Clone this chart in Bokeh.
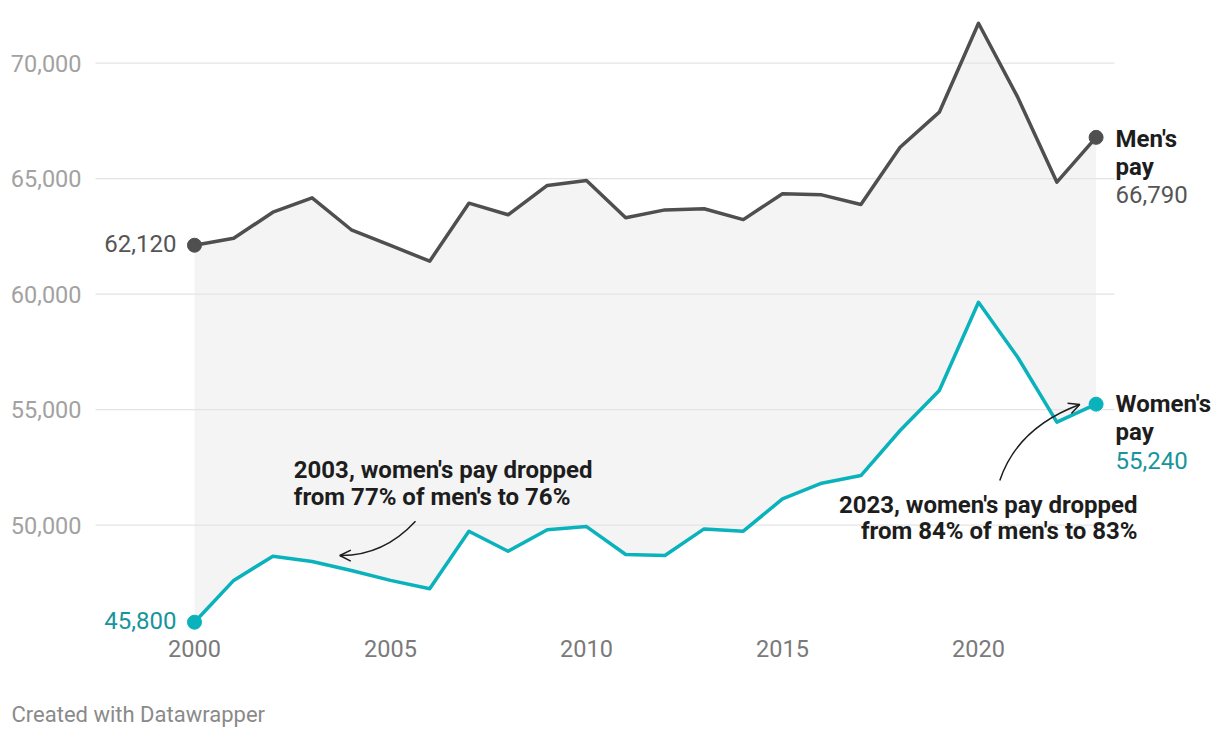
from bokeh.plotting import figure
from bokeh.models import Label, Arrow, OpenHead, Range1d
from bokeh.core.properties import value
from bokeh.embed import file_html
from bokeh.resources import INLINE

# ---- data ----
years = list(range(2000, 2024))
men = [62120, 62420, 63550, 64170, 62790, 62110, 61430, 63940, 63440, 64710, 64920, 63310,
       63650, 63700, 63230, 64350, 64300, 63880, 66360, 67880, 71730, 68530, 64850, 66790]
women = [45800, 47610, 48660, 48430, 48040, 47610, 47250, 49740, 48870, 49800, 49940, 48730,
         48690, 49840, 49740, 51140, 51820, 52150, 54100, 55830, 59650, 57270, 54460, 55240]
x_ticks = [2000, 2005, 2010, 2015, 2020]
y_ticks = [50000, 55000, 60000, 65000, 70000]
series_names = ["Men's", "Women's"]
notes = [["2003, women's pay dropped", "from 77% of men's to 76%"],
         ["2023, women's pay dropped", "from 84% of men's to 83%"]]
footer = "Created with Datawrapper"

# ---- style ----
FONT = "Roboto"
MEN_C = "#4f4f4f"
WOM_C = "#0ab2bb"
WOM_TXT = "#17959b"
MEN_TXT = "#555555"
INK = "#1d1d1d"

W, H = 1220, 738
PX_PER_YEAR = 39.2
PX_PER_5K = 115.5
x_start = 2000 - 194 / PX_PER_YEAR
x_end = x_start + W / PX_PER_YEAR
y_end = 70000 + 62.7 * 5000 / PX_PER_5K
y_start = y_end - H * 5000 / PX_PER_5K
px_y = 5000 / PX_PER_5K          # value units per pixel


def dx(px):   # page pixel -> x data
    return x_start + px / PX_PER_YEAR


def dy(py):   # page pixel -> y data
    return y_end - py * px_y


p = figure(width=W, height=H, x_range=Range1d(x_start, x_end), y_range=Range1d(y_start, y_end),
           output_backend="svg", toolbar_location=None,
           min_border_left=0, min_border_right=0, min_border_top=0, min_border_bottom=0)
p.outline_line_color = None
p.background_fill_color = "white"
p.border_fill_color = "white"
p.xaxis.visible = False
p.yaxis.visible = False
p.xgrid.visible = False
p.ygrid.visible = False

# gap area
p.varea(x=years, y1=women, y2=men, fill_color="#f4f4f4")

# grid lines + tick labels
g_left, g_right = dx(95), dx(1114)
p.segment(x0=[g_left] * len(y_ticks), y0=y_ticks, x1=[g_right] * len(y_ticks), y1=y_ticks,
          line_color="#e4e4e4", line_width=1.3)
p.text(x=[g_left] * len(y_ticks), y=y_ticks, text=[f"{t:,}" for t in y_ticks],
       x_offset=-14, text_align="right", text_baseline="middle",
       text_font=value(FONT), text_font_size="23.5px", text_color="#a2a2a2")
p.text(x=x_ticks, y=[dy(648)] * len(x_ticks), text=[str(t) for t in x_ticks],
       text_align="center", text_baseline="middle",
       text_font=value(FONT), text_font_size="23.5px", text_color="#7a7a7a")

# lines
p.line(years, men, line_color=MEN_C, line_width=3.5, line_join="round", line_cap="round")
p.line(years, women, line_color=WOM_C, line_width=3.5, line_join="round", line_cap="round")

# end dots
p.scatter([years[0], years[-1]], [men[0], men[-1]], size=14, color=MEN_C)
p.scatter([years[0], years[-1]], [women[0], women[-1]], size=14, color=WOM_C)


def lab(x, y, text, color, bold=False, align="left", x_offset=0, size="24px"):
    p.add_layout(Label(x=x, y=y, text=text, x_offset=x_offset, text_font=FONT,
                       text_font_size=size, text_color=color,
                       text_font_style="bold" if bold else "normal",
                       text_align=align, text_baseline="middle"))


# start values
lab(years[0], men[0] + 2 * px_y, f"{men[0]:,}", MEN_TXT, align="right", x_offset=-18)
lab(years[0], women[0] + 1.7 * px_y, f"{women[0]:,}", WOM_TXT, align="right", x_offset=-18)

# end labels
lab(years[-1], men[-1] - 2 * px_y, series_names[0], INK, bold=True, x_offset=19.4)
lab(years[-1], men[-1] - 30 * px_y, "pay", INK, bold=True, x_offset=19.4)
lab(years[-1], men[-1] - 57.5 * px_y, f"{men[-1]:,}", MEN_TXT, x_offset=19.4)
lab(years[-1], women[-1] + 0.5 * px_y, series_names[1], INK, bold=True, x_offset=19.4)
lab(years[-1], women[-1] - 28 * px_y, "pay", INK, bold=True, x_offset=19.4)
lab(years[-1], women[-1] - 56.3 * px_y, f"{women[-1]:,}", WOM_TXT, x_offset=19.4)

# annotations
lab(dx(293.3), dy(469), notes[0][0], INK, bold=True)
lab(dx(293.3), dy(496), notes[0][1], INK, bold=True)
lab(dx(1137), dy(504), notes[1][0], INK, bold=True, align="right")
lab(dx(1137), dy(530), notes[1][1], INK, bold=True, align="right")

# curved arrows
arrows = [
    dict(x0=2005.638, y0=50173, cx=2004.816, cy=48667, x1=2003.707, y1=48688),
    dict(x0=2020.543, y0=51935, cx=2020.995, cy=54229, x1=2022.584, y1=55225),
]
for a in arrows:
    p.quadratic(x0=[a["x0"]], y0=[a["y0"]], x1=[a["x1"]], y1=[a["y1"]],
                cx=[a["cx"]], cy=[a["cy"]], line_color=INK, line_width=1.5)
    sx = a["x1"] + 0.03 * (a["cx"] - a["x1"])
    sy = a["y1"] + 0.03 * (a["cy"] - a["y1"])
    p.add_layout(Arrow(end=OpenHead(size=11, line_color=INK, line_width=1.5),
                       x_start=sx, y_start=sy, x_end=a["x1"], y_end=a["y1"],
                       line_color=INK, line_width=1.5))

# footer
lab(dx(11), dy(714), footer, "#8a8a8a", size="22px")

open("out.html", "w").write(file_html(p, INLINE))
